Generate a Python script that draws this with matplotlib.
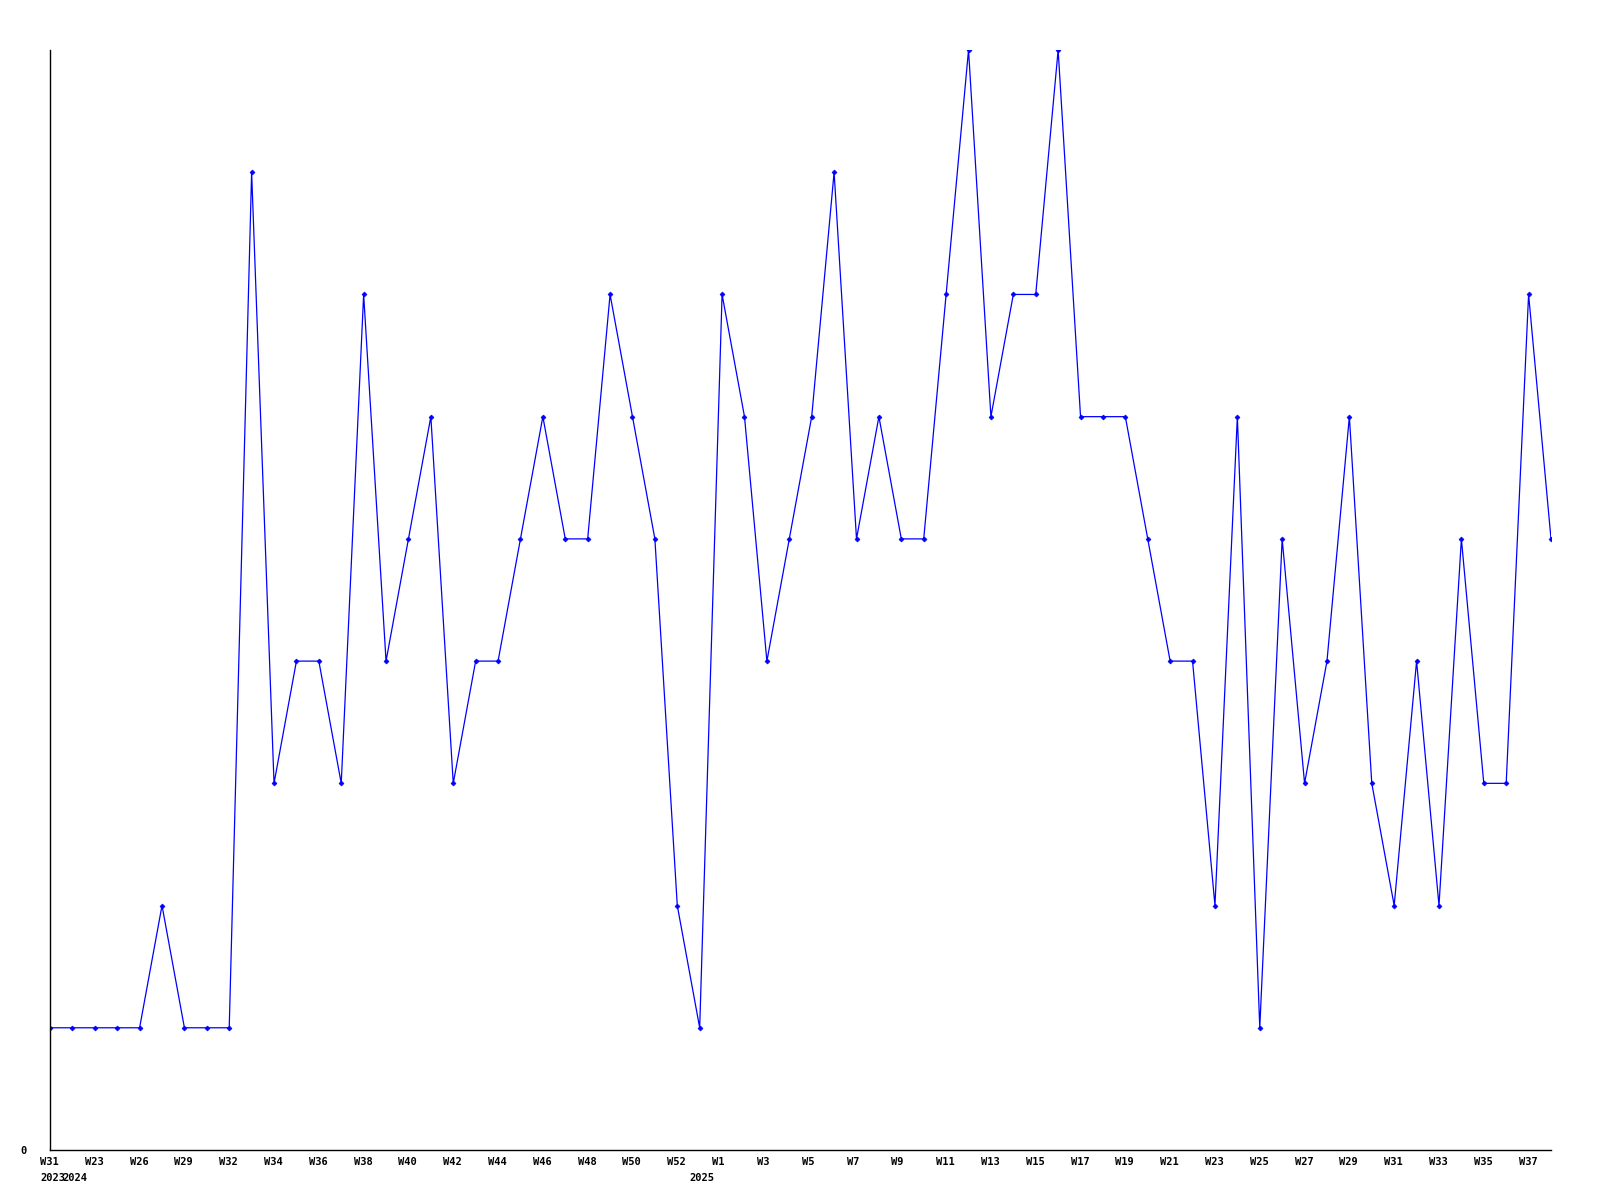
import matplotlib
matplotlib.use("Agg")
import matplotlib.pyplot as plt
from matplotlib.transforms import ScaledTranslation, blended_transform_factory

# weekly counts, one point per week of data
values = [1, 1, 1, 1, 1, 2, 1, 1, 1, 8, 3, 4, 4, 3, 7, 4, 5, 6, 3, 4,
          4, 5, 6, 5, 5, 7, 6, 5, 2, 1, 7, 6, 4, 5, 6, 8, 5, 6, 5, 5,
          7, 9, 6, 7, 7, 9, 6, 6, 6, 5, 4, 4, 2, 6, 1, 5, 3, 4, 6, 3,
          2, 4, 2, 5, 3, 3, 7, 5]

week_labels = ["W31", "W23", "W26", "W29", "W32", "W34", "W36", "W38", "W40",
               "W42", "W44", "W46", "W48", "W50", "W52", "W1", "W3", "W5",
               "W7", "W9", "W11", "W13", "W15", "W17", "W19", "W21", "W23",
               "W25", "W27", "W29", "W31", "W33", "W35", "W37"]
week_label_pos = list(range(0, 68, 2))

year_labels = ["2023", "2024", "2025"]
year_label_pos = [0, 1, 29]

font = {"family": "DejaVu Sans Mono", "weight": "bold", "size": 7.5}

fig = plt.figure(figsize=(16, 12), dpi=100)
ax = fig.add_axes([50 / 1600, 50 / 1200, 1501 / 1600, 1100 / 1200])

x = list(range(len(values)))
ax.plot(x, values, color="#0000ff", lw=0.9, marker="D", markersize=2.5,
        markeredgewidth=0.5)

ax.set_xlim(0, len(values) - 1)
ax.set_ylim(0, 9)

for s in ["top", "right"]:
    ax.spines[s].set_visible(False)
for s in ["left", "bottom"]:
    ax.spines[s].set_linewidth(1.0)
    ax.spines[s].set_color("black")

ax.set_yticks([0])
ax.set_yticklabels(["0"], fontdict=font)
ax.tick_params(axis="y", length=0, pad=17)

ax.set_xticks(week_label_pos)
ax.set_xticklabels(week_labels, fontdict=font, ha="left")
ax.tick_params(axis="x", length=0, pad=5)
shift = ScaledTranslation(-10 / 100, 0, fig.dpi_scale_trans)
for lab in ax.get_xticklabels():
    lab.set_transform(lab.get_transform() + shift)

trans = blended_transform_factory(ax.transData, ax.transAxes)
for pos, txt in zip(year_label_pos, year_labels):
    t = ax.text(pos, 0, txt, transform=trans + ScaledTranslation(-10 / 100, -23 / 100, fig.dpi_scale_trans),
                ha="left", va="top", **font)

fig.savefig("out.png", dpi=100, facecolor="white")
